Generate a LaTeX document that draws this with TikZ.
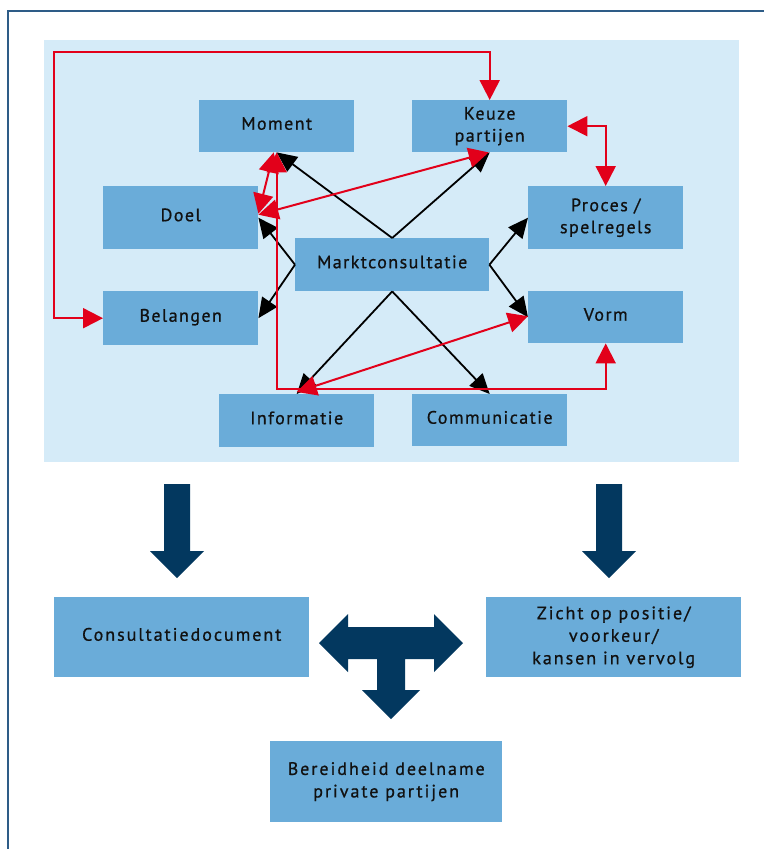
\documentclass[tikz,border=0pt]{standalone}
\usepackage{fontspec}
\setmainfont{PT Sans}
\newfontfamily\boxfont[LetterSpace=8,FakeBold=0.8]{PT Sans}
\newfontfamily\lowfont[LetterSpace=11,FakeBold=0.8]{PT Sans}
\usetikzlibrary{arrows.meta,calc}
\definecolor{panelblue}{HTML}{D5EBF8}
\definecolor{boxblue}{HTML}{6AACD9}
\definecolor{linkred}{HTML}{E2001A}
\definecolor{navy}{HTML}{03385F}
\definecolor{framecol}{HTML}{2E5C87}
\definecolor{inkcol}{HTML}{111111}
\begin{document}
\begin{tikzpicture}[x=1pt,y=-1pt,
  redtip/.tip={Triangle[length=20pt,width=20pt]},
  blktip/.tip={Triangle[length=20pt,width=18pt]},
  box/.style={fill=boxblue, inner sep=0pt, anchor=north west, text=inkcol,
    align=center, font=\boxfont\fontsize{18}{22}\selectfont},
  lowbox/.style={box, font=\lowfont\fontsize{18}{22.5}\selectfont},
  oneline/.style={text height=13pt, text depth=6pt},
  blk/.style={draw=black, line width=1.8pt, -blktip},
  rd/.style={draw=linkred, line width=2pt, redtip-redtip},
  bigarrow/.style={fill=navy}
]
\useasboundingbox (0,0) rectangle (764,849);

% outer frame (left and top rules)
\draw[framecol, line width=2pt] (8,849) -- (8,11) -- (764,11);

% background panel of the upper diagram
\fill[panelblue] (44,40) rectangle (739,462);

% upper boxes
\node[box, oneline, minimum width=155, minimum height=52] (moment) at (199,100) {Moment};
\node[box, minimum width=155, minimum height=52] (keuze) at (412,100) {Keuze\\partijen};
\node[box, oneline, minimum width=155, minimum height=63] (doel) at (103,186) {Doel};
\node[box, minimum width=155, minimum height=63] (proces) at (528,186) {Proces /\\spelregels};
\node[box, oneline, minimum width=194, minimum height=53] (markt) at (295,238) {Marktconsultatie};
\node[box, oneline, minimum width=155, minimum height=54] (belangen) at (103,291) {Belangen};
\node[box, oneline, minimum width=155, minimum height=52] (vorm) at (528,291) {Vorm};
\node[box, oneline, minimum width=155, minimum height=53] (informatie) at (219,394) {Informatie};
\node[box, oneline, minimum width=155, minimum height=52] (communicatie) at (412,394) {Communicatie};

% lower boxes
\node[lowbox, oneline, minimum width=255, minimum height=80] (consult) at (54,597) {Consultatiedocument};
\node[lowbox, minimum width=255, minimum height=80] (zicht) at (486,597) {Zicht op positie/\\voorkeur/\\kansen in vervolg};
\node[lowbox, minimum width=232, minimum height=81] (bereid) at (270,741) {Bereidheid deelname\\private partijen};

% black arrows out of Marktconsultatie
\draw[blk] (markt.north) -- (moment.south);
\draw[blk] (markt.north) -- (keuze.south);
\draw[blk] (markt.west) -- (doel.east);
\draw[blk] (markt.west) -- (belangen.east);
\draw[blk] (markt.east) -- (proces.west);
\draw[blk] (markt.east) -- (vorm.west);
\draw[blk] (markt.south) -- (informatie.north);
\draw[blk] (markt.south) -- (communicatie.north);

% red relations
\coordinate (loopcorner) at (54,52);
\coordinate (redbase) at (0,389);
\draw[rd] (belangen.west) -| (loopcorner) -| (keuze.north);
\draw[rd] (keuze.east) -| (proces.north);
\draw[rd] (moment.south) -- (moment.south |- redbase) -| (vorm.south);
\draw[rd] ($(doel.east)+(0,-4)$) -- ($(moment.south)+(-3,0)$);
\draw[rd] ($(doel.east)+(0,-3)$) -- ($(keuze.south)+(-1,0)$);
\draw[rd] ($(informatie.north)+(0,-2)$) -- ($(vorm.west)+(0,-1)$);

% block arrows to the lower boxes
\fill[bigarrow] (164,484) -- (190,484) -- (190,551) -- (204,551) -- (177,578)
  -- (150,551) -- (164,551) -- cycle;
\fill[bigarrow] (596,484) -- (622,484) -- (622,551) -- (636,551) -- (609,578)
  -- (582,551) -- (596,551) -- cycle;

% T-shaped three-way block arrow
\fill[bigarrow] (319,643) -- (348,614) -- (348,627) -- (434,627) -- (434,614)
  -- (463,643) -- (434,672) -- (434,659) -- (405,659) -- (405,690) -- (420,690)
  -- (391,719) -- (362,690) -- (377,690) -- (377,659) -- (348,659) -- (348,672) -- cycle;
\end{tikzpicture}
\end{document}
